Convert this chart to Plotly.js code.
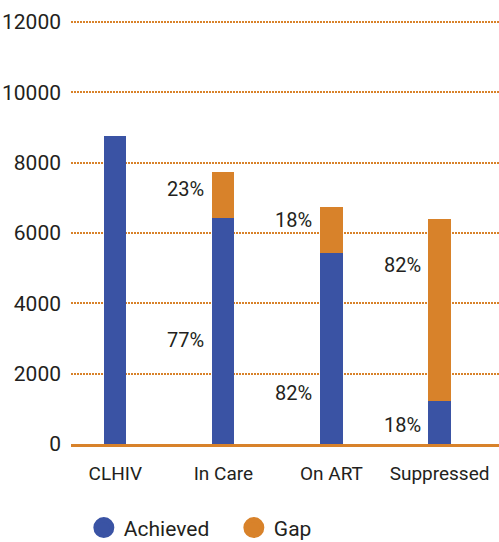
<!DOCTYPE html>
<html>
<head>
<meta charset="utf-8">
<script src="https://cdn.plot.ly/plotly-3.0.1.min.js"></script>
<style>
  html, body { margin: 0; padding: 0; background: #ffffff; }
  #chart { width: 499px; height: 542px; }
</style>
</head>
<body>
<div id="chart"></div>
<script>
// ---- data ----
const categories = ['CLHIV', 'In Care', 'On ART', 'Suppressed'];
const achieved   = [8760, 6430, 5430, 1220];
const gap        = [0, 1305, 1310, 5180];
const achievedPctLabels = ['', '77%', '82%', '18%'];
const gapPctLabels      = ['', '23%', '18%', '82%'];
// value at which each percentage label sits
const achievedLabelAt = [null, 2960, 1450, 540];
const gapLabelAt      = [null, 7250, 6370, 5090];
const yTicks = [0, 2000, 4000, 6000, 8000, 10000, 12000];

const BLUE = '#3a53a4';
const ORANGE = '#d8822a';
const TEXT = '#231f20';
const FONT = 'Roboto, "DejaVu Sans Condensed", sans-serif';
const BAR_W = 0.205;

const traces = [
  { type: 'bar', x: categories, y: achieved, name: 'Achieved',
    marker: { color: BLUE }, width: BAR_W, showlegend: false, hoverinfo: 'x+y' },
  { type: 'bar', x: categories, y: gap, name: 'Gap',
    marker: { color: ORANGE }, width: BAR_W, showlegend: false, hoverinfo: 'x+y' },
  // legend entries with round markers
  { type: 'scatter', mode: 'markers', x: [null], y: [null], name: 'Achieved',
    marker: { color: BLUE, size: 22, symbol: 'circle', line: { color: BLUE, width: 5 } } },
  { type: 'scatter', mode: 'markers', x: [null], y: [null], name: 'Gap',
    marker: { color: ORANGE, size: 22, symbol: 'circle', line: { color: ORANGE, width: 5 } } }
];

const labelFont = { family: FONT, size: 20, color: TEXT };
const annotations = [];
categories.forEach((c, i) => {
  if (achievedPctLabels[i]) {
    annotations.push({ x: c, y: achievedLabelAt[i], xref: 'x', yref: 'y',
      text: achievedPctLabels[i], showarrow: false, xanchor: 'right', yanchor: 'middle',
      xshift: -17, font: labelFont });
  }
  if (gapPctLabels[i]) {
    annotations.push({ x: c, y: gapLabelAt[i], xref: 'x', yref: 'y',
      text: gapPctLabels[i], showarrow: false, xanchor: 'right', yanchor: 'middle',
      xshift: -17, font: labelFont });
  }
});

const layout = {
  width: 499, height: 542,
  margin: { l: 71, r: 0, t: 20, b: 98, pad: 0, autoexpand: false },
  paper_bgcolor: '#ffffff', plot_bgcolor: '#ffffff',
  barmode: 'stack',
  font: { family: FONT, color: TEXT, size: 20 },
  xaxis: {
    type: 'category', range: [-0.41, 3.55], automargin: false,
    showgrid: false, zeroline: false,
    showline: true, linecolor: ORANGE, linewidth: 3,
    ticks: '', tickfont: { family: FONT, size: 19, color: TEXT },
    ticklabelstandoff: 10, fixedrange: true
  },
  yaxis: {
    range: [0, 12057], tickvals: yTicks, ticktext: yTicks.map(String), automargin: false,
    showgrid: true, gridcolor: ORANGE, gridwidth: 2, griddash: '1.5px,1.5px',
    zeroline: false, showline: false, ticks: '',
    tickfont: { family: FONT, size: 21, color: TEXT },
    ticklabelstandoff: 9, fixedrange: true
  },
  showlegend: true,
  legend: {
    orientation: 'h', x: 0.03, xanchor: 'left', y: -0.198, yanchor: 'middle',
    traceorder: 'normal',
    font: { family: FONT, size: 21, color: TEXT },
    itemsizing: 'trace', entrywidth: 105, entrywidthmode: 'pixels',
    bgcolor: 'rgba(0,0,0,0)'
  },
  annotations: annotations
};

Plotly.newPlot('chart', traces, layout, { displayModeBar: false, staticPlot: true });
</script>
</body>
</html>
